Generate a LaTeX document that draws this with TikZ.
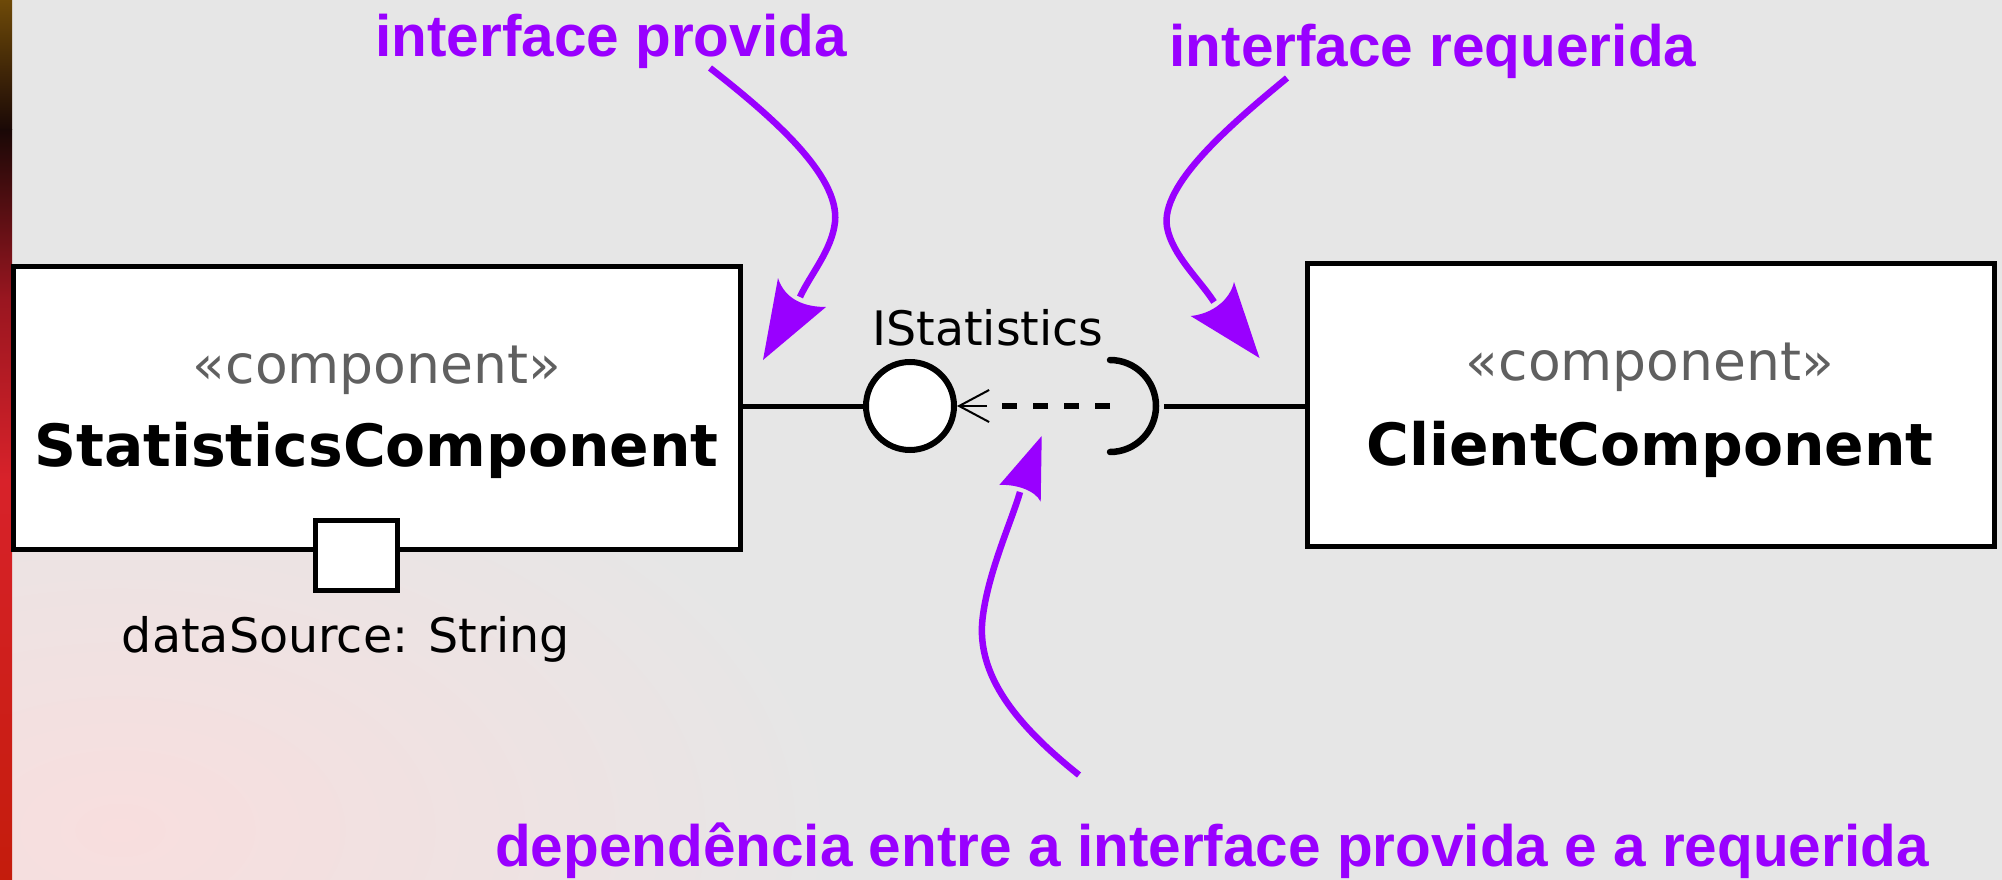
\documentclass[tikz,border=0pt]{standalone}
\usepackage{fontspec}
\setmainfont{DejaVu Sans}
\newfontfamily\libsans{Liberation Sans}
\usetikzlibrary{arrows.meta,calc}
\definecolor{bg}{HTML}{E6E6E6}
\definecolor{annot}{HTML}{9900FF}
\definecolor{stereo}{HTML}{606060}
\definecolor{pinkbg}{HTML}{F8DEDE}
\definecolor{stripA}{HTML}{6E4A08}
\definecolor{stripB}{HTML}{1A0806}
\definecolor{stripC}{HTML}{9A1620}
\definecolor{stripD}{HTML}{D8222A}
\definecolor{stripE}{HTML}{C41C0C}
\begin{document}
\begin{tikzpicture}[x=1pt,y=-1pt,
  comp/.style={draw=black,line width=5pt,fill=white,inner sep=0pt,rectangle},
  stereotxt/.style={anchor=base,inner sep=0pt,text=stereo,font=\fontsize{53.5}{60}\selectfont},
  nametxt/.style={anchor=base,inner sep=0pt,font=\fontsize{58.3}{66}\selectfont\bfseries},
  plaintxt/.style={anchor=base,inner sep=0pt,font=\fontsize{47.5}{54}\selectfont},
  annottxt/.style={anchor=base,inner sep=0pt,text=annot,font=\libsans\fontsize{58.5}{66}\selectfont\bfseries},
  annotline/.style={draw=annot,line width=6.5pt},
  annothead/.style={fill=annot},
  wire/.style={line width=5pt}
]
\useasboundingbox (0,0) rectangle (2002,880);
% background
\fill[bg] (0,0) rectangle (2002,880);
\begin{scope}
\clip (0,0) rectangle (2002,880);
\shade[inner color=pinkbg, outer color=bg] (120,830) ellipse[x radius=720pt, y radius=430pt];
\end{scope}
\shade[top color=stripA, bottom color=stripB] (0,0) rectangle (12,130);
\shade[top color=stripB, bottom color=stripC] (0,130) rectangle (12,300);
\shade[top color=stripC, bottom color=stripD] (0,300) rectangle (12,480);
\shade[top color=stripD, bottom color=stripE] (0,480) rectangle (12,880);

% components
\node[comp, minimum width=727pt, minimum height=283pt] (statbox) at (376.5,407.5) {};
\node[comp, minimum width=687pt, minimum height=283pt] (clientbox) at (1650.5,404.5) {};
\node[stereotxt] (statster) at (377,383) {«component»};
\node[nametxt] (statname) at (376.5,466) {StatisticsComponent};
\node[stereotxt] (clster) at (1650,380) {«component»};
\node[nametxt] (clname) at (1650,465) {ClientComponent};

% port
\node[comp, minimum width=82pt, minimum height=70pt] (port) at (356.5,555.5) {};
\node[plaintxt] (portlbl) at (346,652) {dataSource: String};

% provided interface
\node[circle, draw, line width=6pt, fill=white, minimum size=88pt, inner sep=0pt] (iface) at (910,406) {};
\node[plaintxt] (ifacelbl) at (988,345) {IStatistics};
\draw[wire] (statbox.east |- iface.west) -- (iface.west);

% required interface (socket)
\coordinate (sockc) at (1110,406);
\coordinate (sockr) at (1164,406);
\draw[line width=6.5pt, line cap=round] ($(sockc)+(0,-46)$) arc[start angle=90, end angle=-90, radius=46pt];
\draw[wire] (sockr) -- (sockr -| clientbox.west);

% dependency
\coordinate (deptail) at (987,406);
\draw[line width=6pt, dash pattern=on 15pt off 16pt] (sockc) -- (deptail);
\draw[line width=2pt, -{Straight Barb[length=30pt,width=32pt]}] (deptail) -- (iface.east);

% annotations
\node[annottxt] (lprov) at (611,57) {interface provida};
\node[annottxt] (lreq) at (1433,67) {interface requerida};
\node[annottxt] (ldep) at (1212,866) {dependência entre a interface provida e a requerida};

\coordinate (a1s) at (710,68);
\coordinate (a1e) at (800,297);
\draw[annotline] (a1s) .. controls (770,115) and (840,175) .. (835,222) .. controls (832,250) and (810,275) .. (a1e);
\fill[annothead] (763,360) -- (778,278) .. controls (785,300) and (805,307) .. (826,307) -- cycle;

\coordinate (a2s) at (1287,78);
\coordinate (a2e) at (1214,302);
\draw[annotline] (a2s) .. controls (1230,125) and (1160,185) .. (1167,227) .. controls (1172,255) and (1200,280) .. (a2e);
\fill[annothead] (1259.5,358) -- (1234,282) .. controls (1230,300) and (1212,314) .. (1190.6,316) -- cycle;

\coordinate (a3s) at (1079,775);
\coordinate (a3e) at (1020,492);
\draw[annotline] (a3s) .. controls (1010,720) and (975,670) .. (983,615) .. controls (989,570) and (1012,520) .. (a3e);
\fill[annothead] (1041.7,436) -- (1040.7,501.7) .. controls (1035,490) and (1015,484) .. (999.3,485) -- cycle;
\end{tikzpicture}
\end{document}
